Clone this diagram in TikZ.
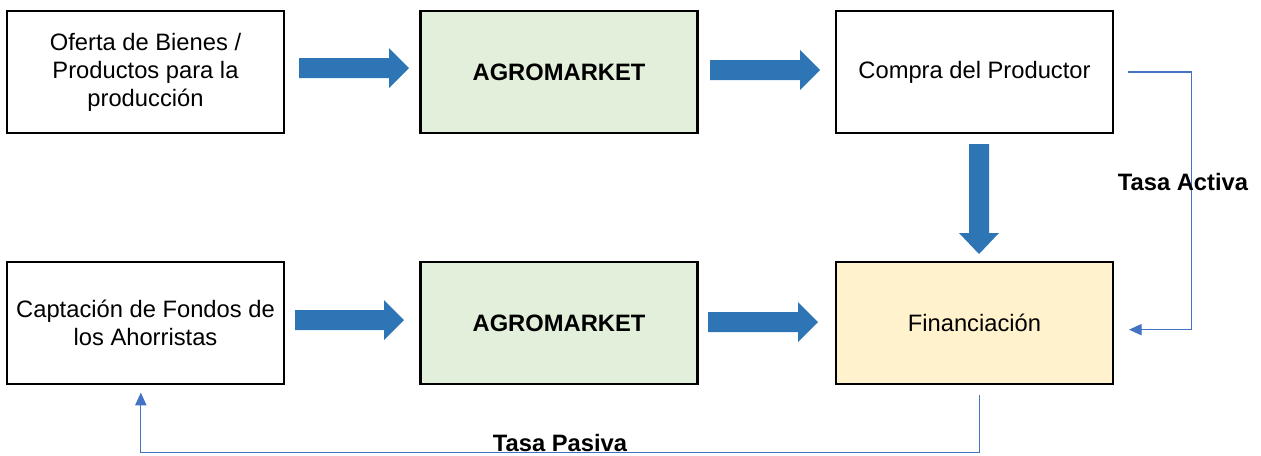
\documentclass[tikz,border=0pt]{standalone}
\usepackage{fontspec}
\setmainfont{Liberation Sans}
\usetikzlibrary{arrows.meta}
\definecolor{boxgreen}{HTML}{E2EFDA}
\definecolor{boxyellow}{HTML}{FFF2CC}
\definecolor{arrowblue}{HTML}{2E75B6}
\definecolor{lineblue}{HTML}{4472C4}
\begin{document}
\begin{tikzpicture}[x=0.75pt,y=-0.75pt,
  box/.style={draw=black,line width=2pt,minimum width=207.75pt,minimum height=91.5pt,
    align=center,inner sep=2pt,font=\fontsize{17.8}{21}\selectfont},
  blockarrow/.style={fill=arrowblue},
  link/.style={draw=lineblue,line width=0.8pt,-{Triangle[length=9.5pt,width=8.5pt]}},
  lbl/.style={font=\bfseries\fontsize{17.8}{21}\selectfont}]
\useasboundingbox (0,0) rectangle (1261,455);
% boxes
\node[box] (a) at (145.5,72) {Oferta de Bienes /\\Productos para la\\producción};
\node[box,fill=boxgreen] (b) at (559,72) {\textbf{AGROMARKET}};
\node[box] (c) at (974.5,72) {Compra del Productor};
\node[box] (d) at (145.5,323) {Captación de Fondos de\\los Ahorristas};
\node[box,fill=boxgreen] (e) at (559,323) {\textbf{AGROMARKET}};
\node[box,fill=boxyellow] (f) at (974.5,323) {Financiación};
% block arrows
\fill[blockarrow] (299,58) -- (389,58) -- (389,48) -- (409,68) -- (389,88) -- (389,78) -- (299,78) -- cycle;
\fill[blockarrow] (710,60) -- (800,60) -- (800,50) -- (820,70) -- (800,90) -- (800,80) -- (710,80) -- cycle;
\fill[blockarrow] (969,144) -- (989,144) -- (989,233) -- (999,233) -- (979,254) -- (959,233) -- (969,233) -- cycle;
\fill[blockarrow] (295,310) -- (384,310) -- (384,300) -- (404,320) -- (384,340) -- (384,330) -- (295,330) -- cycle;
\fill[blockarrow] (708,312) -- (798,312) -- (798,302) -- (818,322) -- (798,342) -- (798,332) -- (708,332) -- cycle;
% thin connectors
\draw[link] ([xshift=10.5pt]c.east) -- ++(63,0) |- ([xshift=11pt,yshift=-5pt]f.east);
\draw[link] ([xshift=4pt,yshift=-7.5pt]f.south) -- ++(0,57) -| ([xshift=-3.5pt,yshift=-5.5pt]d.south);
% labels
\node[lbl] (ta) at (1183,182) {Tasa Activa};
\node[lbl] (tp) at (560,443) {Tasa Pasiva};
\end{tikzpicture}
\end{document}
